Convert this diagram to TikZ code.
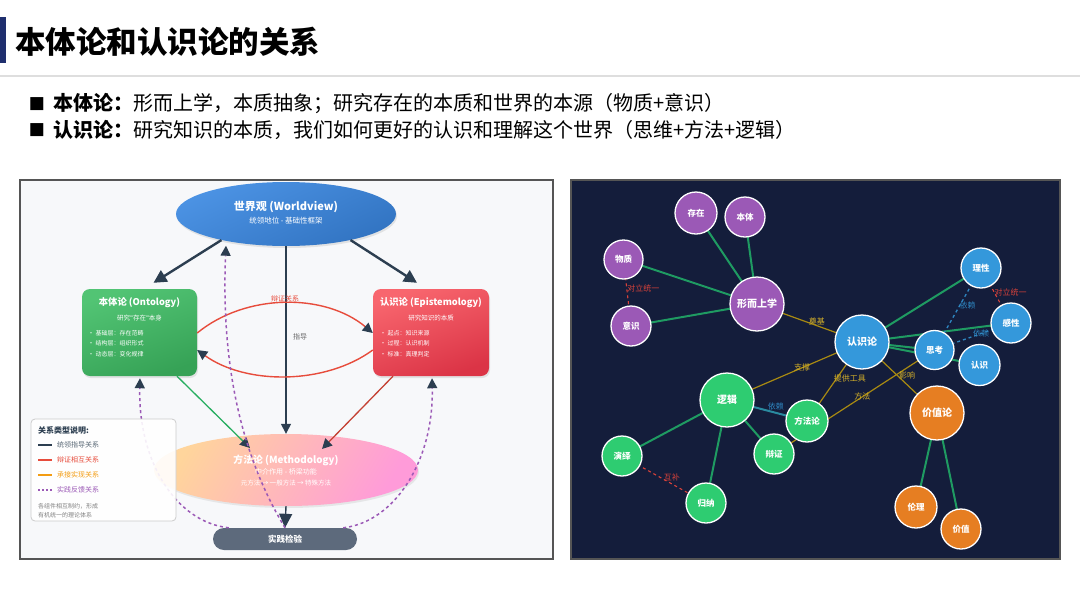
\documentclass[tikz,border=0pt]{standalone}
\usepackage{fontspec}
\setmainfont{Noto Sans CJK SC}
\newfontfamily\dejavu{DejaVu Sans}
\usetikzlibrary{arrows.meta,shapes.geometric,shadows,calc}
\definecolor{titlebar}{HTML}{1F2F6E}
\definecolor{sepline}{HTML}{DEDEDE}
\definecolor{leftbg}{HTML}{F7F8FA}
\definecolor{panelborder}{HTML}{555555}
\definecolor{wvA}{HTML}{4C93E4}
\definecolor{wvB}{HTML}{3274C2}
\definecolor{ontoA}{HTML}{52C474}
\definecolor{ontoB}{HTML}{36A256}
\definecolor{episA}{HTML}{F8666E}
\definecolor{episB}{HTML}{DB3446}
\definecolor{methA}{HTML}{FFBE66}
\definecolor{methB}{HTML}{FF9BD9}
\definecolor{pracC}{HTML}{5D6A7C}
\definecolor{arrowdark}{HTML}{2C3E50}
\definecolor{lgreen}{HTML}{27AE60}
\definecolor{lred}{HTML}{E74C3C}
\definecolor{lpurple}{HTML}{9B59B6}
\definecolor{lorange}{HTML}{F39C12}
\definecolor{rightbg}{HTML}{141D3B}
\definecolor{npurple}{HTML}{9B59B6}
\definecolor{nblue}{HTML}{3498DB}
\definecolor{ngreen}{HTML}{2ECC71}
\definecolor{norange}{HTML}{E67E22}
\definecolor{egreen}{HTML}{1F9B62}
\definecolor{egold}{HTML}{A88A12}
\definecolor{tgold}{HTML}{D4B02A}
\definecolor{eblue}{HTML}{2E86C1}
\definecolor{eteal}{HTML}{2A8AA0}
\definecolor{ered}{HTML}{D9423A}
\newcommand\fsz[2]{\fontsize{#1pt}{#2pt}\selectfont}
\newcommand\sq{{\dejavu"}}
\pgfdeclarelayer{back}
\pgfdeclarelayer{edges}
\pgfsetlayers{back,edges,main}
\tikzset{
  darrow/.style={-{Triangle[length=10pt,width=10pt,color=arrowdark]}},
  bigarrow/.style={line width=2.4pt, draw=arrowdark, -{Triangle[length=13pt,width=13pt,color=arrowdark]}},
  pdash/.style={draw=lpurple, line width=1.5pt, dash pattern=on 3pt off 3pt, darrow},
  wtxt/.style={text=white, inner sep=0},
  rnode/.style={circle, draw=white, line width=1.3pt, text=white, font=\bfseries\fsz{8.5}{9}, inner sep=0},
  bignode/.style={minimum size=54pt, font=\bfseries\fsz{10}{11}},
  pnode/.style={rnode, fill=npurple},
  bnode/.style={rnode, fill=nblue},
  gnode/.style={rnode, fill=ngreen},
  onode/.style={rnode, fill=norange},
  gedge/.style={draw=egreen, line width=2pt},
  yedge/.style={draw=egold, line width=1.2pt},
  bdash/.style={draw=eblue, line width=1.3pt, dashed},
  rdash/.style={draw=ered, line width=1.1pt, dashed},
  ylbl/.style={text=tgold, font=\fsz{8}{8}, inner sep=0},
  blbl/.style={text=eblue, font=\fsz{8}{8}, inner sep=0},
  rlbl/.style={text=ered, font=\fsz{8}{8}, inner sep=0},
  legtxt/.style={anchor=west, font=\fsz{7}{7}, inner sep=0},
}
\begin{document}
\begin{tikzpicture}[x=1pt,y=-1pt]
\useasboundingbox (0,0) rectangle (1080,606);
\begin{pgfonlayer}{back}
\fill[white] (0,0) rectangle (1080,606);
% header
\fill[titlebar] (0,17) rectangle (6,63);
\draw[sepline, line width=1.2pt] (0,76) -- (1080,76);
% panels
\fill[leftbg] (20,180) rectangle (553,559);
\draw[panelborder, line width=1.2pt] (20,180) rectangle (553,559);
\fill[rightbg] (571,180) rectangle (1060,559);
\draw[panelborder, line width=1.2pt] (571,180) rectangle (1060,559);
\end{pgfonlayer}

\node[anchor=west, font=\bfseries\fsz{30.5}{32}, inner sep=0] (title) at (15,42) {本体论和认识论的关系};
\node[font=\dejavu\fsz{17}{17}, inner sep=0] (sq1) at (37,104) {■};
\node[anchor=west, font=\fsz{20}{22}, inner sep=0] (b1) at (53,104) {\textbf{本体论：}形而上学，本质抽象；研究存在的本质和世界的本源（物质+意识）};
\node[font=\dejavu\fsz{17}{17}, inner sep=0] (sq2) at (37,130) {■};
\node[anchor=west, font=\fsz{20}{22}, inner sep=0] (b2) at (53,130) {\textbf{认识论：}研究知识的本质，我们如何更好的认识和理解这个世界（思维+方法+逻辑）};

% ===== left diagram =====
\node[ellipse, minimum width=220pt, minimum height=64pt, inner sep=0,
      top color=wvA, bottom color=wvB, shading angle=25,
      drop shadow={opacity=0.18, shadow xshift=1pt, shadow yshift=-2pt}] (wv) at (286,214) {};
\node[wtxt, font=\bfseries\fsz{11}{12}] (wvt) at (286,207) {世界观 (Worldview)};
\node[wtxt, font=\fsz{7.5}{8}] (wvs) at (286,221) {统领地位 - 基础性框架};

\node[rectangle, rounded corners=8pt, minimum width=115pt, minimum height=87pt, inner sep=0,
      top color=ontoA, bottom color=ontoB, shading angle=20,
      drop shadow={opacity=0.18, shadow xshift=1pt, shadow yshift=-2pt}] (onto) at (139.5,332.5) {};
\node[wtxt, font=\bfseries\fsz{9.3}{10}] (ontot) at (139.5,303) {本体论 (Ontology)};
\node[wtxt, font=\fsz{6.5}{7}] (ontos) at (139.5,318) {研究\sq 存在\sq 本身};
\node[wtxt, anchor=north west, align=left, font=\fsz{6}{10.5}] (ontob) at (88,330) {• 基础层：存在范畴\\• 结构层：组织形式\\• 动态层：变化规律};

\node[rectangle, rounded corners=8pt, minimum width=116pt, minimum height=87pt, inner sep=0,
      top color=episA, bottom color=episB, shading angle=20,
      drop shadow={opacity=0.18, shadow xshift=1pt, shadow yshift=-2pt}] (epis) at (431,332.5) {};
\node[wtxt, font=\bfseries\fsz{9.3}{10}] (epist) at (431,303) {认识论 (Epistemology)};
\node[wtxt, font=\fsz{6.5}{7}] (episs) at (431,318) {研究知识的本质};
\node[wtxt, anchor=north west, align=left, font=\fsz{6}{10.5}] (episb) at (380,330) {• 起点：知识来源\\• 过程：认识机制\\• 标准：真理判定};

\node[ellipse, minimum width=264pt, minimum height=72pt, inner sep=0,
      left color=methA!65!white, right color=methB, shading angle=60,
      drop shadow={opacity=0.15, shadow xshift=1pt, shadow yshift=-2pt}] (meth) at (286,470) {};
\node[wtxt, font=\bfseries\fsz{9.8}{10}] (metht) at (286,460) {方法论 (Methodology)};
\node[wtxt, font=\fsz{7}{7}] (meths) at (286,472) {中介作用 - 桥梁功能};
\node[wtxt, font=\fsz{6.5}{7}] (methm) at (286,483) {元方法 → 一般方法 → 特殊方法};

\node[rectangle, rounded corners=11pt, minimum width=144pt, minimum height=22pt, inner sep=0,
      fill=pracC, text=white, font=\bfseries\fsz{8.5}{9}] (prac) at (285,539) {实践检验};

% arrows
\draw[bigarrow] (wv.202) -- ($(onto.north)+(14,-6)$);
\draw[bigarrow] (wv.338) -- ($(epis.north)+(-14,-6)$);
\draw[line width=1.4pt, draw=arrowdark, darrow] (wv.south) -- (meth.north);
\node[text=black!60, font=\fsz{7}{7}, inner sep=0] (guide) at (300,337) {指导};
\draw[line width=1.4pt, draw=arrowdark, -{Triangle[length=14pt,width=13pt,color=arrowdark]}] (meth.south) -- (prac.north);
\draw[draw=lred, line width=1.4pt, darrow] ($(onto.east)+(0,0.5)$) .. controls (246,293) and (325,293) .. ($(epis.west)+(0,0.5)$);
\node[text=lred, font=\fsz{7}{7}, inner sep=0] (dial) at (285,299) {辩证关系};
\draw[draw=lred, line width=1.4pt, darrow] ($(epis.west)+(0,17.5)$) .. controls (325,385) and (246,385) .. ($(onto.east)+(0,17.5)$);
\draw[draw=lgreen, line width=1.3pt, darrow] ($(onto.south)+(37.5,0)$) -- ($(meth.center)+(-36,-22)$);
\draw[draw=lred!85!black, line width=1.3pt, darrow] ($(epis.south)+(-38,0)$) -- ($(meth.center)+(36,-21)$);
\draw[pdash] ($(prac.north west)+(16,0)$) .. controls (175,522) and (138,460) .. ($(onto.south)+(0.5,2)$);
\draw[pdash] ($(prac.north east)+(-14,0)$) .. controls (395,522) and (434,460) .. ($(epis.south)+(1,2)$);
\draw[pdash] (prac.north) .. controls (232,440) and (222,340) .. ($(wv.south)+(-60,-0.5)$);

% legend
\node[rectangle, rounded corners=4pt, minimum width=145pt, minimum height=102pt, inner sep=0,
      fill=white, fill opacity=0.9, draw=black!20, line width=0.8pt] (legend) at (103.5,470) {};
\node[anchor=west, font=\bfseries\fsz{8}{8}, text=arrowdark, inner sep=0] (legt) at (38,430) {关系类型说明:};
\draw[draw=arrowdark, line width=1.5pt] (38,445) -- (52,445);
\node[legtxt, text=arrowdark!80] (leg1) at (57,445) {统领指导关系};
\draw[draw=lred, line width=1.5pt] (38,460) -- (52,460);
\node[legtxt, text=lred] (leg2) at (57,460) {辩证相互关系};
\draw[draw=lorange, line width=1.5pt] (38,475) -- (52,475);
\node[legtxt, text=lorange] (leg3) at (57,475) {承接实现关系};
\draw[draw=lpurple, line width=1.5pt, dash pattern=on 2pt off 2pt] (38,490) -- (52,490);
\node[legtxt, text=lpurple] (leg4) at (57,490) {实践反馈关系};
\node[anchor=north west, align=left, font=\fsz{6}{9}, text=black!50, inner sep=0] (legn) at (38,503) {各组件相互制约，形成\\有机统一的理论体系};

% ===== right diagram =====
\node[pnode, minimum size=42pt] (cz) at (696,213) {存在};
\node[pnode, minimum size=40pt] (bt) at (745,217) {本体};
\node[pnode, minimum size=39pt] (wz) at (623.5,259.5) {物质};
\node[pnode, minimum size=40pt] (ys) at (631,326) {意识};
\node[pnode, bignode] (xs) at (757,304) {形而上学};
\node[bnode, bignode] (rsl) at (862,342) {认识论};
\node[bnode, minimum size=40pt] (lx) at (981,268) {理性};
\node[bnode, minimum size=40pt] (gx) at (1011,323) {感性};
\node[bnode, minimum size=39pt] (sk) at (934.5,350) {思考};
\node[bnode, minimum size=41pt] (rs) at (979.5,365) {认识};
\node[gnode, bignode] (lj) at (727,400) {逻辑};
\node[gnode, minimum size=40pt] (yy) at (622,456) {演绎};
\node[gnode, minimum size=40pt] (gn) at (706,503) {归纳};
\node[gnode, minimum size=40pt] (bz) at (774,454) {辩证};
\node[gnode, minimum size=42pt] (ffl) at (807,421) {方法论};
\node[onode, bignode] (jzl) at (937,413) {价值论};
\node[onode, minimum size=42pt] (ll) at (916,507) {伦理};
\node[onode, minimum size=40pt] (jz) at (961,529) {价值};

\begin{pgfonlayer}{edges}
\draw[gedge] (cz.center) -- (xs.center);
\draw[gedge] (bt.center) -- (xs.center);
\draw[gedge] (wz.center) -- (xs.center);
\draw[gedge] (ys.center) -- (xs.center);
\draw[gedge] (rsl.center) -- (lx.center);
\draw[gedge] (rsl.center) -- (gx.center);
\draw[gedge] (rsl.center) -- (sk.center);
\draw[gedge] (rsl.center) -- (rs.center);
\draw[gedge] (lj.center) -- (yy.center);
\draw[gedge] (lj.center) -- (gn.center);
\draw[gedge] (lj.center) -- (bz.center);
\draw[gedge] (jzl.center) -- (ll.center);
\draw[gedge] (jzl.center) -- (jz.center);
\draw[yedge] (xs.center) -- node[ylbl, pos=0.57, yshift=4pt] (l1) {奠基} (rsl.center);
\draw[yedge] (lj.center) -- node[ylbl, pos=0.556] (l2) {支撑} (rsl.center);
\draw[yedge] (ffl.center) -- node[ylbl, pos=0.544, xshift=13pt] (l3) {提供工具} (rsl.center);
\draw[yedge] (bz.center) -- node[ylbl, pos=0.55] (l4) {方法} (sk.center);
\draw[yedge] (rsl.center) -- node[ylbl, pos=0.6, yshift=9pt] (l5) {影响} (jzl.center);
\draw[draw=eteal, line width=2pt] (lj.center) -- node[blbl, pos=0.61, yshift=6pt] (l6) {依赖} (ffl.center);
\draw[bdash] (lx.center) -- node[blbl, pos=0.46, xshift=8pt] (l7) {依赖} (sk.center);
\draw[bdash] (gx.center) -- node[blbl, pos=0.39] (l8) {依赖} (sk.center);
\draw[rdash] (wz.center) -- node[rlbl, pos=0.44, anchor=west] (l9) {对立统一} (ys.center);
\draw[rdash] (lx.center) -- node[rlbl, pos=0.436, anchor=west] (l10) {对立统一} (gx.center);
\draw[rdash] (yy.center) -- node[rlbl, pos=0.595, yshift=7pt] (l11) {互补} (gn.center);
\end{pgfonlayer}
\end{tikzpicture}
\end{document}
